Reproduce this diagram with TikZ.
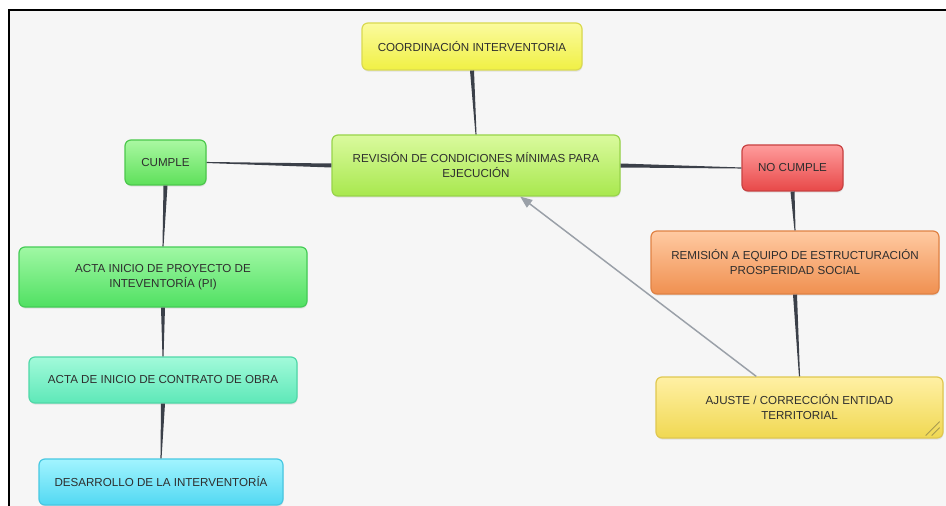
\documentclass[tikz,border=0pt]{standalone}
\usepackage{fontspec}
\setmainfont{Liberation Sans}
\usetikzlibrary{calc,shadows,arrows.meta}
\definecolor{bgc}{HTML}{F6F6F6}
\definecolor{txt}{HTML}{2E2E2E}
\definecolor{conn}{HTML}{3B4049}
\definecolor{arrowc}{HTML}{9AA0A8}
\definecolor{gripc}{HTML}{A89A50}
\definecolor{coT}{HTML}{FBFB9E}\definecolor{coB}{HTML}{F0F044}\definecolor{coD}{HTML}{DADA50}
\definecolor{reT}{HTML}{DAFA9E}\definecolor{reB}{HTML}{A8E84E}\definecolor{reD}{HTML}{98D44A}
\definecolor{cuT}{HTML}{AAF8A2}\definecolor{cuB}{HTML}{5EE05A}\definecolor{cuD}{HTML}{4CC84C}
\definecolor{ncT}{HTML}{FF9C9C}\definecolor{ncB}{HTML}{E84848}\definecolor{ncD}{HTML}{C84242}
\definecolor{rmT}{HTML}{FFCAA2}\definecolor{rmB}{HTML}{F09050}\definecolor{rmD}{HTML}{E08244}
\definecolor{ajT}{HTML}{FFF0A4}\definecolor{ajB}{HTML}{F0D852}\definecolor{ajD}{HTML}{E0C850}
\definecolor{apT}{HTML}{A0F8A4}\definecolor{apB}{HTML}{50E062}\definecolor{apD}{HTML}{44CC56}
\definecolor{acT}{HTML}{A2FADA}\definecolor{acB}{HTML}{5EE8B8}\definecolor{acD}{HTML}{50D8A8}
\definecolor{deT}{HTML}{A2F4FF}\definecolor{deB}{HTML}{52D8F2}\definecolor{deD}{HTML}{48C8E2}
\newcommand\taperline[4]{\fill[conn] ($(#1)!#3!90:(#2)$) -- ($(#1)!#3!-90:(#2)$) -- ($(#2)!#4!90:(#1)$) -- ($(#2)!#4!-90:(#1)$) -- cycle;}
\begin{document}
\begin{tikzpicture}[x=0.75pt,y=-0.75pt,
  mbox/.style={rounded corners=4.5pt, top color=#1T, bottom color=#1B, draw=#1D,
    line width=0.9pt, text=txt, align=center, inner sep=0pt,
    font=\fontsize{8.7pt}{11.25pt}\selectfont,
    drop shadow={opacity=0.18, shadow xshift=0.4pt, shadow yshift=-1.2pt}},
  sz/.style 2 args={minimum width=#1*0.75pt, minimum height=#2*0.75pt}]
\useasboundingbox (0,0) rectangle (946,506);
\fill[white] (0,0) rectangle (946,506);
\fill[bgc] (9,10) rectangle (946,506);
\draw[line width=1.5pt] (9,506) -- (9,10) -- (946,10);

\node[mbox=co, sz={220}{47}] (coord) at (472,46.5) {COORDINACIÓN INTERVENTORIA};
\node[mbox=re, sz={288}{61}] (rev) at (476,165.5) {REVISIÓN DE CONDICIONES MÍNIMAS PARA\\EJECUCIÓN};
\node[mbox=cu, sz={81}{45}] (cumple) at (165.5,162.5) {CUMPLE};
\node[mbox=nc, sz={101}{46}] (nocumple) at (792.5,168) {NO CUMPLE};
\node[mbox=rm, sz={288}{63}] (remision) at (795,262.5) {REMISIÓN A EQUIPO DE ESTRUCTURACIÓN\\PROSPERIDAD SOCIAL};
\node[mbox=aj, sz={287}{61}] (ajuste) at (799.5,407.5) {AJUSTE / CORRECCIÓN ENTIDAD\\TERRITORIAL};
\node[mbox=ap, sz={288}{60}] (actapi) at (163,277) {ACTA INICIO DE PROYECTO DE\\INTEVENTORÍA (PI)};
\node[mbox=ac, sz={268}{46}] (actaco) at (163,380) {ACTA DE INICIO DE CONTRATO DE OBRA};
\node[mbox=de, sz={244}{46}] (desa) at (161,482) {DESARROLLO DE LA INTERVENTORÍA};

\taperline{coord.south}{rev.north}{1.5pt}{0.4pt}
\taperline{rev.west}{cumple.east}{1.5pt}{0.4pt}
\taperline{rev.east}{nocumple.west}{1.5pt}{0.4pt}
\taperline{nocumple.south}{remision.north}{1.5pt}{0.4pt}
\taperline{remision.south}{ajuste.north}{1.5pt}{0.4pt}
\taperline{cumple.south}{actapi.north}{1.5pt}{0.4pt}
\taperline{actapi.south}{actaco.north}{1.5pt}{0.4pt}
\taperline{actaco.south}{desa.north}{1.5pt}{0.4pt}

\draw[arrowc, line width=1.1pt, -{Triangle[length=9pt,width=7pt]}]
  ($(ajuste.north west)!0.35!(ajuste.north east)$) -- ($(rev.south west)!0.653!(rev.south east)$);

\draw[gripc, line width=0.6pt] ($(ajuste.south east)+(-18,-3)$) -- ($(ajuste.south east)+(-4,-17)$)
  ($(ajuste.south east)+(-12,-3)$) -- ($(ajuste.south east)+(-4,-11)$);
\end{tikzpicture}
\end{document}
